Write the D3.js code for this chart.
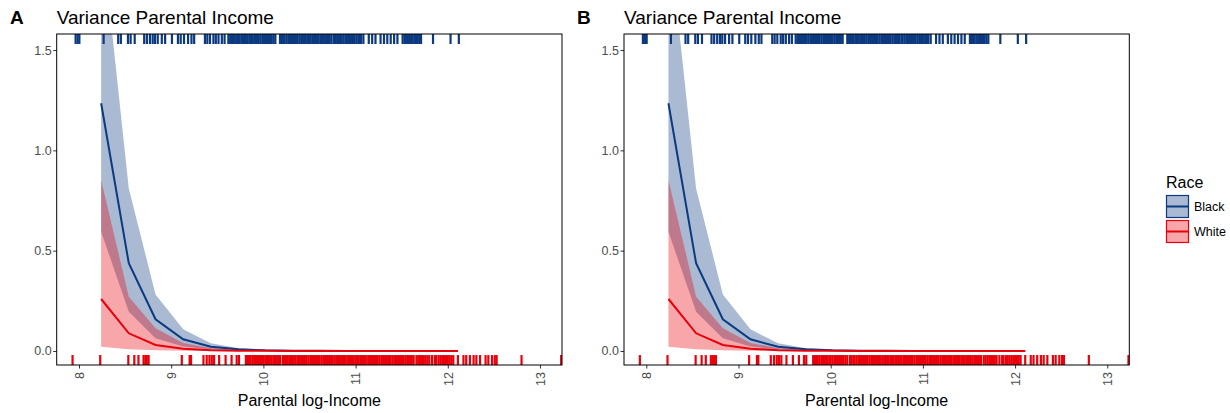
<!DOCTYPE html>
<html>
<head>
<meta charset="utf-8">
<script src="https://cdn.jsdelivr.net/npm/d3@7"></script>
<style>
  body { margin: 0; background: white; }
  svg text { font-family: "Liberation Sans", Arial, sans-serif; }
</style>
</head>
<body>
<script>
// fitted variance curve
const xGrid = [8.24, 8.54, 8.83, 9.13, 9.43, 9.73, 10.02, 10.32, 10.62, 10.92, 11.21, 11.51, 11.81, 12.11]

const blackFit = [1.235, 0.437, 0.158, 0.058, 0.021, 0.008, 0.003, 0.0012, 0.0005, 0.0002, 0.0001, 0, 0, 0]
const blackLo = [0.594, 0.196, 0.063, 0.022, 0.007, 0.0025, 0.001, 0.0004, 0.0001, 0, 0, 0, 0, 0]
const blackHi = [2.10, 0.81, 0.282, 0.108, 0.038, 0.013, 0.005, 0.002, 0.0008, 0.0003, 0.0001, 0, 0, 0]

const whiteFit = [0.259, 0.088, 0.030, 0.011, 0.004, 0.0015, 0.0005, 0.0002, 0.0001, 0, 0, 0, 0, 0]
const whiteLo = [0.021, 0.008, 0.003, 0.001, 0.0004, 0.0001, 0, 0, 0, 0, 0, 0, 0, 0]
const whiteHi = [0.852, 0.27, 0.113, 0.04, 0.014, 0.005, 0.002, 0.0007, 0.0003, 0.0001, 0, 0, 0, 0]

// rug of observed parental log-income
const blackRug = [7.963, 7.985, 8.004, 8.267, 8.425, 8.454, 8.531, 8.56, 8.604, 8.707, 8.736, 8.769, 8.799, 8.824,
    8.854, 8.898, 8.934, 9.008, 9.073, 9.103, 9.139, 9.183, 9.22, 9.249,
    9.366, 9.392, 9.421, 9.458, 9.484, 9.513, 9.549, 9.579,
    9.62, 9.64, 9.655, 9.67, 9.69, 9.71, 9.725, 9.74, 9.76, 9.78, 9.795, 9.81, 9.83, 9.85, 9.865, 9.88, 9.9,
    9.92, 9.935, 9.95, 9.97, 9.99, 10.005, 10.02, 10.04, 10.06, 10.075, 10.09, 10.11, 10.13,
    10.18, 10.2, 10.215, 10.23, 10.25, 10.27, 10.285, 10.3, 10.32, 10.34, 10.355, 10.37, 10.39, 10.41, 10.425,
    10.44, 10.46, 10.48, 10.495, 10.51, 10.53, 10.55, 10.565, 10.58, 10.6, 10.62, 10.635, 10.65, 10.67, 10.69,
    10.705, 10.72, 10.74, 10.765, 10.78, 10.8, 10.82, 10.835, 10.85, 10.87, 10.89, 10.905, 10.92, 10.94, 10.96,
    10.975, 10.99, 11.01, 11.03, 11.045, 11.06, 11.085,
    11.143, 11.18, 11.216, 11.271, 11.308, 11.344, 11.381, 11.418, 11.454,
    11.51, 11.53, 11.545, 11.56, 11.58, 11.6, 11.62, 11.64, 11.655, 11.67, 11.69, 11.71,
    11.84, 12.03, 12.12]

const whiteRug = [7.93, 8.23, 8.535, 8.6, 8.645, 8.7, 8.72, 8.735, 8.755, 9.115, 9.2, 9.215,
    9.35, 9.385, 9.415, 9.44, 9.465, 9.52, 9.59, 9.655, 9.71, 9.735,
    9.81, 9.83, 9.845, 9.86, 9.88, 9.9, 9.915, 9.93, 9.95, 9.965,
    9.985, 10.0, 10.02, 10.04, 10.055, 10.07, 10.09, 10.11, 10.125, 10.14, 10.16, 10.18,
    10.21, 10.225, 10.245, 10.26, 10.28, 10.3, 10.315, 10.33, 10.35, 10.37, 10.385, 10.4, 10.42, 10.44, 10.455,
    10.47, 10.49, 10.51, 10.525, 10.54, 10.56, 10.58, 10.595, 10.61, 10.63, 10.65, 10.665, 10.68, 10.7, 10.72,
    10.735, 10.75, 10.77, 10.79, 10.805, 10.82, 10.84, 10.86, 10.875, 10.89, 10.91, 10.93, 10.945, 10.96, 10.98,
    11.0, 11.015, 11.03, 11.05, 11.07, 11.085, 11.1, 11.12, 11.14, 11.155, 11.17, 11.19, 11.21, 11.225, 11.24,
    11.26, 11.28, 11.295, 11.31, 11.33, 11.35, 11.365, 11.38, 11.4, 11.42, 11.435, 11.45, 11.47, 11.49, 11.505,
    11.52, 11.54, 11.56, 11.575, 11.59, 11.61, 11.63, 11.66, 11.68, 11.7, 11.72, 11.74, 11.76, 11.78, 11.80,
    11.83, 11.86, 11.875, 11.9, 11.92, 11.94, 11.96, 11.98, 12.0, 12.02, 12.04, 12.06,
    12.11, 12.17, 12.2, 12.24, 12.28, 12.31, 12.35, 12.41, 12.44, 12.48, 12.51, 12.53, 12.8, 13.23]

const xTicks = [8, 9, 10, 11, 12, 13]
const yTicks = [0, 0.5, 1, 1.5]
const raceNames = ["Black", "White"]

const blue = "#0b3a80"
const red = "#e8000b"
const fillOpacity = 0.35

const width = 1230
const height = 413
const plotTop = 34
const plotBottom = 365
const panelW = 505.3
const panelH = plotBottom - plotTop

const svg = d3.select("body").append("svg")
    .attr("width", width)
    .attr("height", height)

const xScale = d3.scaleLinear().domain([7.758, 13.239]).range([0, panelW])
const yScale = d3.scaleLinear().domain([-0.07, 1.58]).range([panelH, 0])

const blackData = xGrid.map((x, i) => ({x: x, fit: blackFit[i], lo: blackLo[i], hi: blackHi[i]}))
const whiteData = xGrid.map((x, i) => ({x: x, fit: whiteFit[i], lo: whiteLo[i], hi: whiteHi[i]}))

function drawPanel(tag, left, tagX) {

    const g = svg.append("g").attr("transform", `translate(${left},${plotTop})`)

    g.append("clipPath").attr("id", "clip" + tag)
        .append("rect").attr("width", panelW).attr("height", panelH)

    const inner = g.append("g").attr("clip-path", `url(#clip${tag})`)

    const area = d3.area().x(d => xScale(d.x)).y0(d => yScale(d.lo)).y1(d => yScale(d.hi))
    const line = d3.line().x(d => xScale(d.x)).y(d => yScale(d.fit))

    inner.append("path").datum(blackData).attr("d", area).attr("fill", blue).attr("fill-opacity", fillOpacity)
    inner.append("path").datum(whiteData).attr("d", area).attr("fill", red).attr("fill-opacity", fillOpacity)
    inner.append("path").datum(blackData).attr("d", line).attr("fill", "none").attr("stroke", blue).attr("stroke-width", 2)
    inner.append("path").datum(whiteData).attr("d", line).attr("fill", "none").attr("stroke", red).attr("stroke-width", 2)

    // rugs: black on top, white on the bottom
    inner.selectAll(".rug-top").data(blackRug).join("line")
        .attr("x1", d => xScale(d)).attr("x2", d => xScale(d))
        .attr("y1", 0).attr("y2", panelH * 0.03)
        .attr("stroke", blue).attr("stroke-width", 2.2)

    inner.selectAll(".rug-bottom").data(whiteRug).join("line")
        .attr("x1", d => xScale(d)).attr("x2", d => xScale(d))
        .attr("y1", panelH).attr("y2", panelH - panelH * 0.03)
        .attr("stroke", red).attr("stroke-width", 2.2)

    // axes
    g.append("g")
        .call(d3.axisLeft(yScale).tickValues(yTicks).tickFormat(d3.format(".1f")).tickSize(3.5).tickPadding(1.5))
        .call(a => a.select(".domain").remove())
        .call(a => a.selectAll(".tick line").attr("stroke", "#333"))
        .call(a => a.selectAll("text").attr("fill", "#4d4d4d").style("font-size", "12.5px"))

    g.append("g")
        .attr("transform", `translate(0,${panelH})`)
        .call(d3.axisBottom(xScale).tickValues(xTicks).tickFormat(d3.format("d")).tickSize(3.5))
        .call(a => a.select(".domain").remove())
        .call(a => a.selectAll(".tick line").attr("stroke", "#333"))
        .call(a => a.selectAll("text")
            .attr("fill", "#4d4d4d")
            .style("font-size", "12.5px")
            .attr("transform", "rotate(-90)")
            .attr("text-anchor", "end")
            .attr("x", -7)
            .attr("y", 0)
            .attr("dy", "0.35em"))

    g.append("rect")
        .attr("width", panelW).attr("height", panelH)
        .attr("fill", "none").attr("stroke", "black").attr("stroke-width", 1)

    svg.append("text")
        .attr("x", tagX).attr("y", 24)
        .style("font-size", "19px").style("font-weight", "bold")
        .text(tag)

    svg.append("text")
        .attr("x", left).attr("y", 24)
        .style("font-size", "19px")
        .text("Variance Parental Income")

    svg.append("text")
        .attr("x", left + panelW / 2).attr("y", 406)
        .attr("text-anchor", "middle")
        .style("font-size", "16px")
        .text("Parental log-Income")
}

drawPanel("A", 56.7, 10)
drawPanel("B", 624, 577)

// legend
const legend = svg.append("g").attr("transform", "translate(1166,0)")
legend.append("text").attr("x", 0).attr("y", 188).style("font-size", "16px").text("Race")

const keys = legend.selectAll(".key").data(raceNames).join("g")
    .attr("transform", (d, i) => `translate(0,${195 + i * 25})`)

keys.append("rect")
    .attr("x", 0.5).attr("y", 0.5).attr("width", 22).attr("height", 22)
    .attr("fill", (d, i) => i === 0 ? blue : red).attr("fill-opacity", fillOpacity)
    .attr("stroke", (d, i) => i === 0 ? blue : red).attr("stroke-width", 1.2)

keys.append("line")
    .attr("x1", 1).attr("x2", 22).attr("y1", 11.5).attr("y2", 11.5)
    .attr("stroke", (d, i) => i === 0 ? blue : red).attr("stroke-width", 2)

keys.append("text")
    .attr("x", 28).attr("y", 11.5).attr("dy", "0.35em")
    .style("font-size", "12.5px")
    .text(d => d)
</script>
</body>
</html>
